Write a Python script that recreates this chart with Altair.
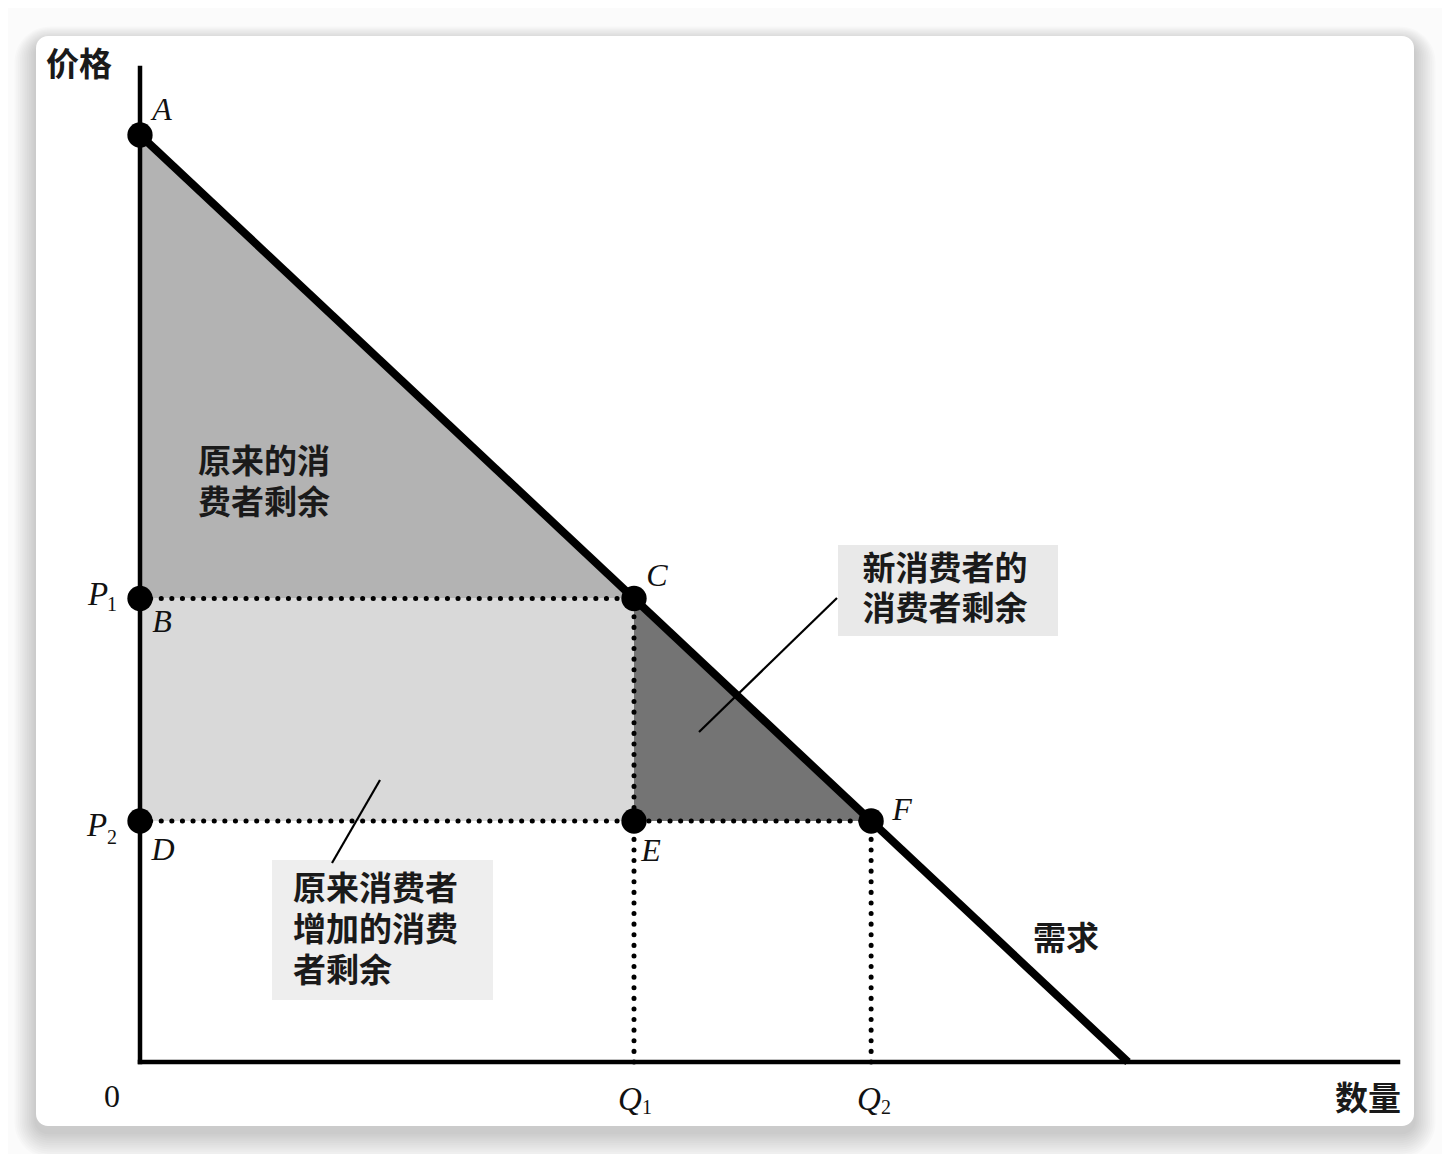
import altair as alt
import pandas as pd

# ---------------- data (economic units) ----------------
demand_q = [0, 10]
demand_p = [10, 0]
p1, p2 = 5.0, 2.6          # prices P1, P2
q1, q2 = 5.0, 7.4          # quantities Q1, Q2
point_names = ["A", "B", "C", "D", "E", "F"]
point_q = [0, 0, q1, 0, q1, q2]
point_p = [10, p1, p1, p2, p2, p2]

# ---------------- layout ----------------
W, H = 1434, 1146
X0, Y0 = 132, 1054          # plot px of origin
KX, KY = 98.8, 92.7         # px per unit
xs = alt.Scale(domain=[-X0 / KX, (W - X0) / KX], zero=False, nice=False)
ys = alt.Scale(domain=[(Y0 - H) / KY, Y0 / KY], zero=False, nice=False)


def Q(X):  # page px -> data
    return (X - 8 - X0) / KX


def P(Y):
    return (Y0 - (Y - 8)) / KY


def enc(ch, **extra):
    return ch.encode(x=alt.X("q:Q", scale=xs, axis=None),
                     y=alt.Y("p:Q", scale=ys, axis=None), **extra)


one = pd.DataFrame({"a": [0]})
layers = []

# card shadow + card
for i in range(1, 13):
    layers.append(alt.Chart(one).mark_rect(color="black", opacity=0.014, cornerRadius=12 + i * 2).encode(
        x=alt.value(28 - i * 1.8), x2=alt.value(1406 + i * 1.8),
        y=alt.value(28 - i * 1.3 + 6), y2=alt.value(1118 + i * 2.2 + 6)))
layers.append(alt.Chart(one).mark_rect(color="white", cornerRadius=12).encode(
    x=alt.value(28), x2=alt.value(1406), y=alt.value(28), y2=alt.value(1118)))

# shaded areas
tri1 = pd.DataFrame({"q": [0, q1], "p": [10, p1], "p2": [p1, p1]})
rect = pd.DataFrame({"q": [0, q1], "p": [p1, p1], "p2": [p2, p2]})
tri2 = pd.DataFrame({"q": [q1, q2], "p": [p1, p2], "p2": [p2, p2]})
for df, col in [(tri1, "#b3b3b3"), (rect, "#d9d9d9"), (tri2, "#747474")]:
    layers.append(enc(alt.Chart(df).mark_area(color=col, opacity=1), y2="p2:Q"))

# label boxes
boxes = pd.DataFrame({"q": [Q(838), Q(272)], "q2": [Q(1058), Q(493)],
                      "p": [P(545), P(860)], "p2": [P(636), P(1000)],
                      "c": ["#e9e9e9", "#eeeeee"]})
layers.append(enc(alt.Chart(boxes).mark_rect(), x2="q2:Q", y2="p2:Q",
                  color=alt.Color("c:N", scale=None)))

# dotted guides
dots = pd.DataFrame({"q": [0, 0, q1, q2], "q2": [q1, q2, q1, q2],
                     "p": [p1, p2, 0, 0], "p2": [p1, p2, p1, p2]})
layers.append(enc(alt.Chart(dots).mark_rule(color="black", strokeWidth=5, strokeDash=[0.1, 10.5],
                                            strokeCap="round"), x2="q2:Q", y2="p2:Q"))

# axes
axes = pd.DataFrame({"q": [0, 0], "q2": [0, Q(1398)], "p": [0, 0], "p2": [P(68), 0]})
layers.append(enc(alt.Chart(axes).mark_rule(color="black", strokeWidth=4.5, strokeCap="square"),
                  x2="q2:Q", y2="p2:Q"))

# demand line
dem = pd.DataFrame({"q": demand_q, "p": demand_p})
layers.append(enc(alt.Chart(dem).mark_line(color="black", strokeWidth=8, strokeCap="butt")))

# pointer lines
ptr = pd.DataFrame({"q": [Q(837), Q(380)], "q2": [Q(699), Q(332)],
                    "p": [P(598), P(780)], "p2": [P(732), P(863)]})
layers.append(enc(alt.Chart(ptr).mark_rule(color="black", strokeWidth=2.2), x2="q2:Q", y2="p2:Q"))

# points
pts = pd.DataFrame({"q": point_q, "p": point_p, "n": point_names})
layers.append(enc(alt.Chart(pts).mark_point(filled=True, shape="circle", size=640, color="black", opacity=1)))

# letter labels
lab_pos = {"A": (162, 110), "B": (162, 622), "C": (657, 576),
           "D": (163, 850), "E": (651, 851), "F": (902, 810)}
letters = pd.DataFrame({"t": point_names,
                        "q": [Q(lab_pos[n][0]) for n in point_names],
                        "p": [P(lab_pos[n][1]) for n in point_names]})
layers.append(enc(alt.Chart(letters).mark_text(font="Liberation Serif", fontStyle="italic", fontSize=32,
                                               color="#111", baseline="middle", align="center"), text="t:N"))

# P / Q symbols with subscripts
sym = pd.DataFrame({"t": ["P", "P", "Q", "Q"],
                    "q": [Q(98), Q(97), Q(630), Q(869)],
                    "p": [P(595), P(826), P(1100), P(1100)]})
layers.append(enc(alt.Chart(sym).mark_text(font="Liberation Serif", fontStyle="italic", fontSize=33,
                                           color="#111", baseline="middle", align="center"), text="t:N"))
subs = pd.DataFrame({"t": ["1", "2", "1", "2"],
                     "q": [Q(112), Q(112), Q(647), Q(886)],
                     "p": [P(605), P(838), P(1108), P(1108)]})
layers.append(enc(alt.Chart(subs).mark_text(font="Liberation Serif", fontSize=20,
                                            color="#111", baseline="middle", align="center"), text="t:N"))
zero = pd.DataFrame({"t": ["0"], "q": [Q(112)], "p": [P(1097)]})
layers.append(enc(alt.Chart(zero).mark_text(font="Liberation Serif", fontSize=32,
                                            color="#111", baseline="middle", align="center"), text="t:N"))

# Chinese single-line labels
cjk_s = pd.DataFrame({"t": ["价格", "数量", "需求"],
                      "q": [Q(79), Q(1368), Q(1066)],
                      "p": [P(66), P(1100), P(940)]})
layers.append(enc(alt.Chart(cjk_s).mark_text(font="Noto Sans CJK SC", fontWeight="bold", fontSize=33,
                                             color="#1a1a1a", baseline="middle", align="center"),
                  text="t:N"))
# Chinese multi-line label (centered)
cjk_c = pd.DataFrame({"t": ["新消费者的|消费者剩余"], "q": [Q(945)], "p": [P(554)]})
layers.append(enc(alt.Chart(cjk_c).mark_text(font="Noto Sans CJK SC", fontWeight="bold", fontSize=33,
                                             color="#1a1a1a", baseline="top", align="center",
                                             lineBreak="|", lineHeight=40), text="t:N"))
# Chinese multi-line labels (left aligned)
cjk_l = pd.DataFrame({"t": ["原来的消|费者剩余", "原来消费者|增加的消费|者剩余"],
                      "q": [Q(198), Q(293)],
                      "p": [P(447), P(874)]})
layers.append(enc(alt.Chart(cjk_l).mark_text(font="Noto Sans CJK SC", fontWeight="bold", fontSize=33,
                                             color="#1a1a1a", baseline="top", align="left",
                                             lineBreak="|", lineHeight=41), text="t:N"))

chart = alt.layer(*layers).properties(
    width=W, height=H, autosize=alt.AutoSizeParams(type="none"), padding=0,
    background="#fbfbfb"
).configure_view(stroke=None)

chart.save("out.html", embed_options={"renderer": "svg", "actions": False})
